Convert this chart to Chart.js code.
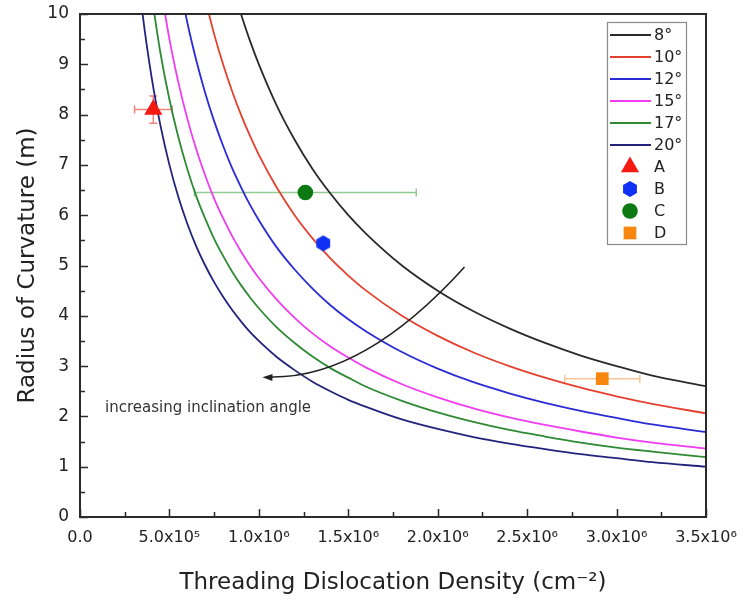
<!DOCTYPE html>
<html><head><meta charset="utf-8">
<script src="https://cdn.jsdelivr.net/npm/chart.js@4.4.1/dist/chart.umd.min.js"></script>
<style>html,body{margin:0;padding:0;background:#fff}#wrap{width:743px;height:600px;position:relative}</style>
</head><body><div id="wrap"><canvas id="c" width="743" height="600"></canvas></div>
<script>
// ---- data ----
const densities = [0.30e6,0.35e6,0.40e6,0.45e6,0.50e6,0.55e6,0.60e6,0.65e6,0.70e6,0.75e6,0.80e6,0.85e6,0.90e6,0.95e6,1.00e6,1.10e6,1.20e6,1.30e6,1.40e6,1.50e6,1.60e6,1.80e6,2.00e6,2.20e6,2.40e6,2.60e6,2.80e6,3.00e6,3.20e6,3.50e6];
const curve8  = [null,null,null,null,null,null,null,null,null,null,null,10.59,10.0,9.47,9.0,8.18,7.5,6.92,6.43,6.0,5.63,5.0,4.5,4.09,3.75,3.46,3.21,3.0,2.81,2.6];
const curve10 = [null,null,null,null,null,null,null,null,10.29,9.6,9.0,8.47,8.0,7.58,7.2,6.55,6.0,5.54,5.14,4.8,4.5,4.0,3.6,3.27,3.0,2.77,2.57,2.4,2.25,2.06];
const curve12 = [null,null,null,null,null,10.73,9.83,9.08,8.43,7.87,7.38,6.94,6.56,6.21,5.9,5.36,4.92,4.54,4.21,3.93,3.69,3.28,2.95,2.68,2.46,2.27,2.11,1.97,1.84,1.69];
const curve15 = [null,null,null,10.56,9.5,8.64,7.92,7.31,6.79,6.33,5.94,5.59,5.28,5.0,4.75,4.32,3.96,3.65,3.39,3.17,2.97,2.64,2.38,2.16,1.98,1.83,1.70,1.58,1.48,1.36];
const curve17 = [null,null,10.38,9.22,8.3,7.55,6.92,6.38,5.93,5.53,5.19,4.88,4.61,4.37,4.15,3.77,3.46,3.19,2.96,2.77,2.59,2.31,2.08,1.89,1.73,1.60,1.48,1.38,1.30,1.19];
const curve20 = [11.67,10.0,8.75,7.78,7.0,6.36,5.83,5.38,5.0,4.67,4.38,4.12,3.89,3.68,3.5,3.18,2.92,2.69,2.5,2.33,2.19,1.94,1.75,1.59,1.46,1.35,1.25,1.17,1.09,1.0];
const angleLabels = ['8°','10°','12°','15°','17°','20°'];

const sampleLabels = ['A','B','C','D'];
const sampleX    = [4.1e5, 1.36e6, 1.26e6, 2.92e6];
const sampleY    = [8.1, 5.44, 6.45, 2.75];
const sampleXErr = [1.05e5, 0, 6.2e5, 2.1e5];
const sampleYErr = [0.27, 0, 0, 0];

const xMin = 0, xMax = 3.5e6, xStep = 5e5;
const yMin = 0, yMax = 10, yStep = 1;

// ---- styles ----
const curveColors = ['#2a2a2a','#e5402f','#2b2bd6','#f03cf0','#2e8a35','#23237c'];
const sampleColors = ['#f41a12','#0f30f5','#0b7a12','#f7870f'];
const errColors = ['rgba(235,90,80,0.75)','rgba(0,0,0,0)','rgba(120,190,120,0.8)','rgba(245,190,140,0.9)'];
const sampleStyles = ['triangle','hex','circle','rect'];
const sampleRadius = [10.5, 8, 7.8, 9];

Chart.defaults.font.family = 'DejaVu Sans';
Chart.defaults.color = '#222';

function hexCanvas(r, color){
  const s = Math.ceil(2*r+2);
  const c = document.createElement('canvas'); c.width = s; c.height = s;
  const g = c.getContext('2d');
  g.beginPath();
  for (let k=0;k<6;k++){ const a = Math.PI/2 + k*Math.PI/3; const px = s/2 + r*Math.cos(a), py = s/2 + r*Math.sin(a); if(k) g.lineTo(px,py); else g.moveTo(px,py); }
  g.closePath(); g.fillStyle = color; g.fill();
  return c;
}

const curves = [curve8, curve10, curve12, curve15, curve17, curve20];
const datasets = curves.map((arr,i)=>({
  label: angleLabels[i],
  data: densities.map((x,j)=>({x, y: arr[j]})).filter(p=>p.y!==null),
  showLine: true, borderColor: curveColors[i], backgroundColor: curveColors[i],
  borderWidth: 1.8, pointRadius: 0, pointHoverRadius: 0,
  cubicInterpolationMode: 'monotone', order: 2
}));
sampleLabels.forEach((lab,i)=>{
  const st = sampleStyles[i] === 'hex' ? hexCanvas(sampleRadius[i], sampleColors[i]) : sampleStyles[i];
  datasets.push({
    label: lab, data: [{x: sampleX[i], y: sampleY[i]}], showLine: false,
    pointStyle: st, pointRadius: sampleRadius[i], pointHoverRadius: sampleRadius[i],
    backgroundColor: sampleColors[i], borderColor: sampleColors[i], borderWidth: 0,
    order: 1, isSample: true, sampleIndex: i
  });
});

const sup = {5:'⁵', 6:'⁶'};
function fmtX(v){
  if (v === 0) return '0.0';
  const e = Math.floor(Math.log10(v) + 1e-9);
  return (v/Math.pow(10,e)).toFixed(1) + 'x10' + sup[e];
}

// error bars (drawn under the markers)
const errorBars = {
  id: 'errorBars',
  beforeDatasetsDraw(chart){
    const {ctx, scales:{x, y}} = chart;
    ctx.save(); ctx.lineWidth = 1.5;
    sampleLabels.forEach((_,i)=>{
      ctx.strokeStyle = errColors[i];
      const cx = x.getPixelForValue(sampleX[i]), cy = y.getPixelForValue(sampleY[i]);
      const cap = 4;
      if (sampleXErr[i] > 0){
        const l = x.getPixelForValue(sampleX[i]-sampleXErr[i]), r = x.getPixelForValue(sampleX[i]+sampleXErr[i]);
        ctx.beginPath(); ctx.moveTo(l,cy); ctx.lineTo(r,cy);
        ctx.moveTo(l,cy-cap); ctx.lineTo(l,cy+cap); ctx.moveTo(r,cy-cap); ctx.lineTo(r,cy+cap); ctx.stroke();
      }
      if (sampleYErr[i] > 0){
        const t = y.getPixelForValue(sampleY[i]+sampleYErr[i]), b = y.getPixelForValue(sampleY[i]-sampleYErr[i]);
        ctx.beginPath(); ctx.moveTo(cx,t); ctx.lineTo(cx,b);
        ctx.moveTo(cx-cap,t); ctx.lineTo(cx+cap,t); ctx.moveTo(cx-cap,b); ctx.lineTo(cx+cap,b); ctx.stroke();
      }
    });
    ctx.restore();
  }
};

// frame with inward major/minor ticks
const frame = {
  id: 'frame',
  afterDatasetsDraw(chart){
    const {ctx, chartArea:a, scales:{x, y}} = chart;
    ctx.save();
    ctx.strokeStyle = '#2a2a2a'; ctx.lineWidth = 2;
    ctx.strokeRect(a.left, a.top, a.right-a.left, a.bottom-a.top);
    ctx.lineWidth = 1.5;
    ctx.beginPath();
    for (let v = xMin; v <= xMax + 1; v += xStep/2){
      const px = Math.round(x.getPixelForValue(v)) + 0.5;
      const major = Math.abs((v/xStep) - Math.round(v/xStep)) < 1e-6;
      ctx.moveTo(px, a.bottom); ctx.lineTo(px, a.bottom - (major ? 8 : 5));
    }
    for (let v = yMin; v <= yMax + 1e-9; v += yStep/2){
      const py = Math.round(y.getPixelForValue(v)) + 0.5;
      const major = Math.abs(v - Math.round(v)) < 1e-6;
      ctx.moveTo(a.left, py); ctx.lineTo(a.left + (major ? 8 : 5), py);
    }
    ctx.stroke();
    ctx.restore();
  }
};

// arrow + note
const arrowStart = {x: 2.15e6, y: 4.97};
const arrowCtrl  = {x: 1.58e6, y: 2.73};
const arrowEnd   = {x: 1.02e6, y: 2.78};
const noteText = 'increasing inclination angle';
const notePos = {x: 1.4e5, y: 2.17};
const annotate = {
  id: 'annotate',
  afterDatasetsDraw(chart){
    const {ctx, scales:{x, y}} = chart;
    const p0 = [x.getPixelForValue(arrowStart.x), y.getPixelForValue(arrowStart.y)];
    const pc = [x.getPixelForValue(arrowCtrl.x), y.getPixelForValue(arrowCtrl.y)];
    const p1 = [x.getPixelForValue(arrowEnd.x), y.getPixelForValue(arrowEnd.y)];
    ctx.save();
    ctx.strokeStyle = '#222'; ctx.fillStyle = '#222'; ctx.lineWidth = 1.6;
    ctx.beginPath(); ctx.moveTo(p0[0],p0[1]); ctx.quadraticCurveTo(pc[0],pc[1],p1[0]+6,p1[1]-0.2); ctx.stroke();
    const ang = Math.atan2(p1[1]-pc[1], p1[0]-pc[0]);
    const L = 10, W = 3.5;
    ctx.beginPath();
    ctx.moveTo(p1[0], p1[1]);
    ctx.lineTo(p1[0] - L*Math.cos(ang) + W*Math.sin(ang), p1[1] - L*Math.sin(ang) - W*Math.cos(ang));
    ctx.lineTo(p1[0] - L*Math.cos(ang) - W*Math.sin(ang), p1[1] - L*Math.sin(ang) + W*Math.cos(ang));
    ctx.closePath(); ctx.fill();
    ctx.font = '15px "DejaVu Sans"'; ctx.textAlign = 'left'; ctx.textBaseline = 'middle'; ctx.fillStyle = '#333';
    ctx.fillText(noteText, x.getPixelForValue(notePos.x), y.getPixelForValue(notePos.y));
    ctx.restore();
  }
};

// boxed legend inside the plot
function drawMarker(ctx, style, r, cx, cy, color){
  ctx.fillStyle = color; ctx.beginPath();
  if (style === 'triangle'){
    ctx.moveTo(cx, cy - r); ctx.lineTo(cx + r*Math.cos(Math.PI/6), cy + r*0.5); ctx.lineTo(cx - r*Math.cos(Math.PI/6), cy + r*0.5);
  } else if (style === 'hex'){
    for (let k=0;k<6;k++){ const a = Math.PI/2 + k*Math.PI/3; const px = cx + r*Math.cos(a), py = cy + r*Math.sin(a); if(k) ctx.lineTo(px,py); else ctx.moveTo(px,py); }
  } else if (style === 'circle'){
    ctx.arc(cx, cy, r, 0, Math.PI*2);
  } else {
    const s = r*Math.SQRT1_2; ctx.rect(cx - s, cy - s, 2*s, 2*s);
  }
  ctx.closePath(); ctx.fill();
}
const boxLegend = {
  id: 'boxLegend',
  afterDraw(chart){
    const {ctx, chartArea:a} = chart;
    const left = a.right - 99, top = a.top + 8, w = 79, rowH = 22, n = chart.data.datasets.length;
    const h = n*rowH + 2;
    ctx.save();
    ctx.fillStyle = '#fff'; ctx.fillRect(left, top, w, h);
    ctx.strokeStyle = '#8a8a8a'; ctx.lineWidth = 1.2; ctx.strokeRect(left+0.5, top+0.5, w, h);
    ctx.font = '16px "DejaVu Sans"'; ctx.textBaseline = 'middle'; ctx.textAlign = 'left';
    chart.data.datasets.forEach((ds, i)=>{
      const cy = top + 13 + i*rowH;
      if (ds.isSample){
        const k = ds.sampleIndex;
        drawMarker(ctx, sampleStyles[k], sampleRadius[k], left + 23, cy, sampleColors[k]);
      } else {
        ctx.strokeStyle = ds.borderColor; ctx.lineWidth = 2.2;
        ctx.beginPath(); ctx.moveTo(left + 3, cy); ctx.lineTo(left + 44, cy); ctx.stroke();
      }
      ctx.fillStyle = '#222';
      ctx.fillText(ds.label, left + 47, cy + 1);
    });
    ctx.restore();
  }
};

new Chart(document.getElementById('c'), {
  type: 'scatter',
  data: { datasets },
  options: {
    responsive: false, animation: false, devicePixelRatio: 1,
    layout: { padding: { top: 14, right: 37, bottom: 0, left: 0 } },
    plugins: { legend: { display: false }, tooltip: { enabled: false } },
    scales: {
      x: {
        type: 'linear', min: xMin, max: xMax,
        afterFit(s){ s.height = 83; s.paddingLeft = 0; s.paddingRight = 0; },
        grid: { display: false, drawTicks: false }, border: { display: false },
        ticks: { stepSize: xStep, autoSkip: false, maxRotation: 0, padding: 11, font: { size: 16 }, color: '#222', callback: fmtX },
        title: { display: true, text: 'Threading Dislocation Density (cm⁻²)', font: { size: 23 }, color: '#222', padding: { top: 0, bottom: 3 } }
      },
      y: {
        type: 'linear', min: yMin, max: yMax,
        afterFit(s){ s.width = 80; s.paddingTop = 0; s.paddingBottom = 0; },
        grid: { display: false, drawTicks: false }, border: { display: false },
        ticks: { stepSize: yStep, autoSkip: false, padding: 11, font: { size: 17 }, color: '#222' },
        title: { display: true, text: 'Radius of Curvature (m)', font: { size: 23 }, color: '#222', padding: { top: 14, bottom: 0 } }
      }
    }
  },
  plugins: [errorBars, frame, annotate, boxLegend]
});
</script>
</body></html>
